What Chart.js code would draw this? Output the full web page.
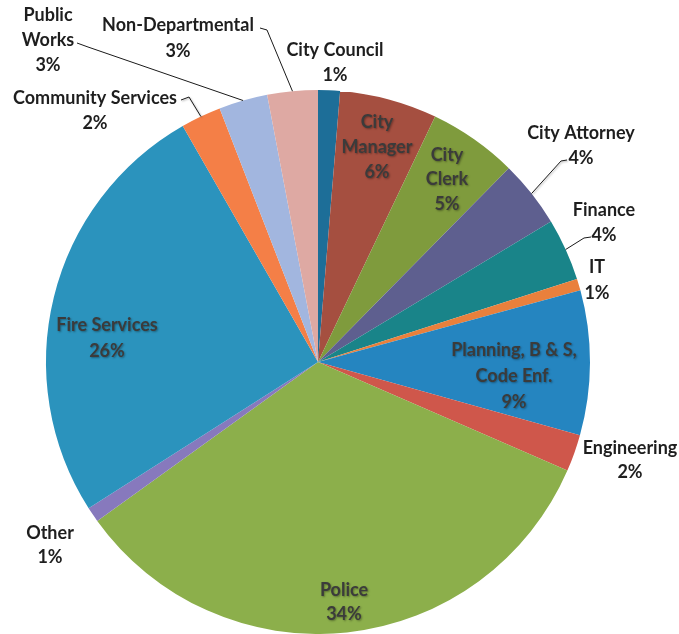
<!DOCTYPE html>
<html>
<head>
<meta charset="utf-8">
<script src="https://cdn.jsdelivr.net/npm/chart.js@4.4.1/dist/chart.umd.min.js"></script>
<style>
  html, body { margin: 0; padding: 0; background: #fff; }
  #wrap { width: 679px; height: 634px; }
</style>
</head>
<body>
<div id="wrap"><canvas id="pieChart" width="679" height="634"></canvas></div>
<script>
// departments, clockwise from 12 o'clock
const departments = ['City Council', 'City Manager', 'City Clerk', 'City Attorney', 'Finance', 'IT',
    'Planning, B & S, Code Enf.', 'Engineering', 'Police', 'Other', 'Fire Services',
    'Community Services', 'Public Works', 'Non-Departmental'];
const shares = [1.3, 5.8, 5.3, 4.0, 3.7, 0.7, 8.6, 2.2, 33.6, 0.9, 25.8, 2.4, 2.9, 3.0];
const sliceColors = ['#1d6e98', '#a54f40', '#7f9b3d', '#5e5f8f', '#198489', '#e9803c',
    '#2585c0', '#cf574b', '#8caf4b', '#8779bd', '#2b93bd', '#f47f47', '#a2b6df', '#dea9a3'];
// how each label wraps
const labelLines = [['City Council'], ['City', 'Manager'], ['City', 'Clerk'], ['City Attorney'], ['Finance'], ['IT'],
    ['Planning, B & S,', 'Code Enf.'], ['Engineering'], ['Police'], ['Other'], ['Fire Services'],
    ['Community Services'], ['Public', 'Works'], ['Non-Departmental']];

// where the label blocks sit (first line centre), plus leader elbows
const placements = [
    { x: 335, y: 50, lh: 25 },
    { x: 377, y: 122, lh: 25, inside: true },
    { x: 447, y: 155, lh: 24.5, inside: true },
    { x: 581, y: 133, lh: 25, leader: [[567, 160], [561, 161]] },
    { x: 604, y: 210, lh: 25, leader: [[591, 237], [584, 238]] },
    { x: 597, y: 267, lh: 26 },
    { x: 514, y: 350, lh: 26, inside: true },
    { x: 630, y: 448, lh: 24 },
    { x: 344, y: 590, lh: 24, inside: true },
    { x: 50, y: 533, lh: 24 },
    { x: 107, y: 325, lh: 26, inside: true },
    { x: 95, y: 98, lh: 25, leader: [[181, 100], [189, 97]] },
    { x: 48, y: 15, lh: 25, leader: [[77, 43], [88, 47]] },
    { x: 178, y: 25, lh: 26, leader: [[260, 28], [267, 30]] }
];

const pieLabels = {
    id: 'pieLabels',
    afterDraw(chart) {
        const ctx = chart.ctx;
        const meta = chart.getDatasetMeta(0);
        const total = shares.reduce((a, b) => a + b, 0);
        ctx.save();
        ctx.font = 'bold 18px Lato, "DejaVu Sans", sans-serif';
        ctx.textAlign = 'center';
        ctx.textBaseline = 'middle';

        meta.data.forEach((arc, i) => {
            const p = placements[i];
            const pct = Math.round(shares[i] / total * 100) + '%';
            const lines = labelLines[i].concat([pct]);

            if (p.leader) {
                const mid = (arc.startAngle + arc.endAngle) / 2;
                const ex = arc.x + Math.cos(mid) * arc.outerRadius;
                const ey = arc.y + Math.sin(mid) * arc.outerRadius;
                ctx.beginPath();
                ctx.moveTo(p.leader[0][0], p.leader[0][1]);
                for (let k = 1; k < p.leader.length; k++) ctx.lineTo(p.leader[k][0], p.leader[k][1]);
                ctx.lineTo(ex, ey);
                ctx.strokeStyle = '#1a1a1a';
                ctx.lineWidth = 1;
                ctx.stroke();
            }

            lines.forEach((txt, k) => {
                const ty = p.y + k * p.lh;
                if (p.inside) {
                    ctx.shadowColor = 'rgba(0,0,0,0.35)';
                    ctx.shadowBlur = 2;
                    ctx.shadowOffsetX = 1;
                    ctx.shadowOffsetY = 1;
                    ctx.fillStyle = '#3b3b3b';
                } else {
                    ctx.shadowColor = 'transparent';
                    ctx.shadowBlur = 0;
                    ctx.shadowOffsetX = 0;
                    ctx.shadowOffsetY = 0;
                    ctx.fillStyle = '#1e1e1e';
                }
                ctx.fillText(txt, p.x, ty);
            });
        });
        ctx.restore();
    }
};

new Chart('pieChart', {
    type: 'pie',
    data: {
        labels: departments,
        datasets: [{
            data: shares,
            backgroundColor: sliceColors,
            borderWidth: 0,
            hoverOffset: 0
        }]
    },
    options: {
        responsive: false,
        animation: false,
        layout: { padding: { left: 46, right: 89, top: 90, bottom: 0 } },
        plugins: {
            legend: { display: false },
            tooltip: { enabled: false }
        }
    },
    plugins: [pieLabels]
});
</script>
</body>
</html>
